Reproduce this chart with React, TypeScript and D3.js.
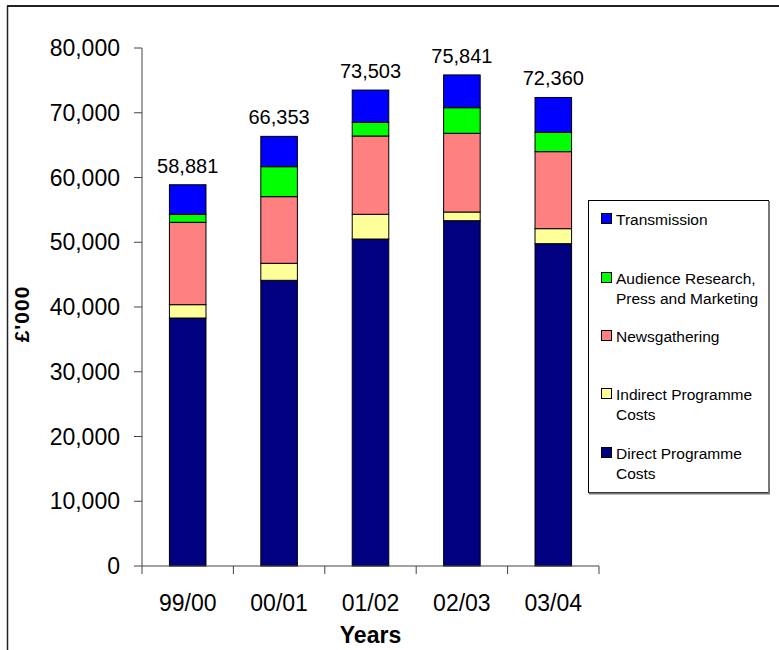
import React from "react";
import * as d3 from "d3";

const years = ["99/00", "00/01", "01/02", "02/03", "03/04"];
const direct = [38300, 44120, 50500, 53330, 49780];
const indirect = [2060, 2630, 3817, 1340, 2320];
const news = [12720, 10290, 12093, 12160, 11890];
const audience = [1240, 4630, 2110, 3950, 2990];
const transmission = [4561, 4683, 4983, 5061, 5380];
const totals = [58881, 66353, 73503, 75841, 72360];
const yTicks = [0, 10000, 20000, 30000, 40000, 50000, 60000, 70000, 80000];

const seriesNames = [
  "Direct Programme Costs",
  "Indirect Programme Costs",
  "Newsgathering",
  "Audience Research, Press and Marketing",
  "Transmission",
];
const seriesData = [direct, indirect, news, audience, transmission];
const colors = ["#000080", "#FFFF99", "#FF8080", "#00FF00", "#0000FF"];

const legendItems = [
  { idx: 4, lines: ["Transmission"], y: 225 },
  { idx: 3, lines: ["Audience Research,", "Press and Marketing"], y: 284 },
  { idx: 2, lines: ["Newsgathering"], y: 342 },
  { idx: 1, lines: ["Indirect Programme", "Costs"], y: 400 },
  { idx: 0, lines: ["Direct Programme", "Costs"], y: 459 },
];

const FONT = "'Liberation Sans', Arial, sans-serif";

export default function App() {
  const W = 779, H = 650;
  const x0 = 142, x1 = 599, yTop = 48, yBot = 566;
  const x = d3.scaleBand<string>().domain(years).range([x0, x1]).paddingInner(0.6).paddingOuter(0.3);
  const y = d3.scaleLinear().domain([0, 80000]).range([yBot, yTop]);
  const fmt = d3.format(",");

  const rows = years.map((yr, i) => {
    const r: any = { year: yr };
    seriesNames.forEach((s, k) => (r[s] = seriesData[k][i]));
    return r;
  });
  const stacked = d3.stack<any>().keys(seriesNames)(rows);

  const bounds = [x0, ...years.map((yr) => (x(yr) as number) + x.bandwidth() + (x.step() - x.bandwidth()) / 2)];

  return (
    <svg width={W} height={H} style={{ position: "absolute", left: 0, top: 0, background: "#fff" }} fontFamily={FONT}>
      <rect x={0} y={0} width={W} height={H} fill="#fff" />
      {/* frame */}
      <line x1={7} y1={6} x2={W} y2={6} stroke="#222" strokeWidth={2} />
      <line x1={7.5} y1={6} x2={7.5} y2={H} stroke="#222" strokeWidth={1.5} />

      {/* bars */}
      {stacked.map((layer, k) => (
        <g key={k}>
          {layer.map((d, i) => (
            <rect
              key={i}
              x={x(years[i])}
              y={y(d[1])}
              width={x.bandwidth()}
              height={y(d[0]) - y(d[1])}
              fill={colors[k]}
              stroke="#000"
              strokeWidth={1}
            />
          ))}
        </g>
      ))}

      {/* totals */}
      {totals.map((t, i) => (
        <text key={i} x={(x(years[i]) as number) + x.bandwidth() / 2} y={y(t) - 12} textAnchor="middle" fontSize={20} fill="#000">
          {fmt(t)}
        </text>
      ))}

      {/* y axis */}
      <line x1={x0} y1={yTop} x2={x0} y2={yBot} stroke="#444" strokeWidth={1} />
      {yTicks.map((t) => (
        <g key={t}>
          <line x1={x0 - 8} x2={x0} y1={y(t)} y2={y(t)} stroke="#444" />
          <text x={120} y={y(t)} dy="0.35em" textAnchor="end" fontSize={23} fill="#000">
            {fmt(t)}
          </text>
        </g>
      ))}

      {/* x axis */}
      <line x1={x0} y1={yBot} x2={x1} y2={yBot} stroke="#444" />
      {bounds.map((b, i) => (
        <line key={i} x1={b} x2={b} y1={yBot} y2={yBot + 8} stroke="#444" />
      ))}
      {years.map((yr) => (
        <text key={yr} x={(x(yr) as number) + x.bandwidth() / 2} y={611} textAnchor="middle" fontSize={23} fill="#000">
          {yr}
        </text>
      ))}

      <text x={(x0 + x1) / 2} y={643} textAnchor="middle" fontSize={23} fontWeight="bold" fill="#000">
        Years
      </text>
      <text
        transform={`translate(29,314) rotate(-90)`}
        textAnchor="middle"
        fontSize={21}
        fontWeight="bold"
        letterSpacing={1}
        fill="#000"
      >
        £'000
      </text>

      {/* legend */}
      <rect x={588.5} y={200.5} width={180} height={292} fill="#fff" stroke="#000" strokeWidth={1} />
      <line x1={769} y1={201} x2={769} y2={494} stroke="#777" strokeWidth={2} />
      <line x1={589} y1={493.5} x2={770} y2={493.5} stroke="#777" strokeWidth={2} />
      {legendItems.map((it) => (
        <g key={it.idx}>
          <rect x={601.5} y={it.y - 11.5} width={10} height={10} fill={colors[it.idx]} stroke="#000" strokeWidth={1} />
          {it.lines.map((ln, j) => (
            <text key={j} x={616} y={it.y + j * 19.5} fontSize={15.5} fill="#000">
              {ln}
            </text>
          ))}
        </g>
      ))}
    </svg>
  );
}
